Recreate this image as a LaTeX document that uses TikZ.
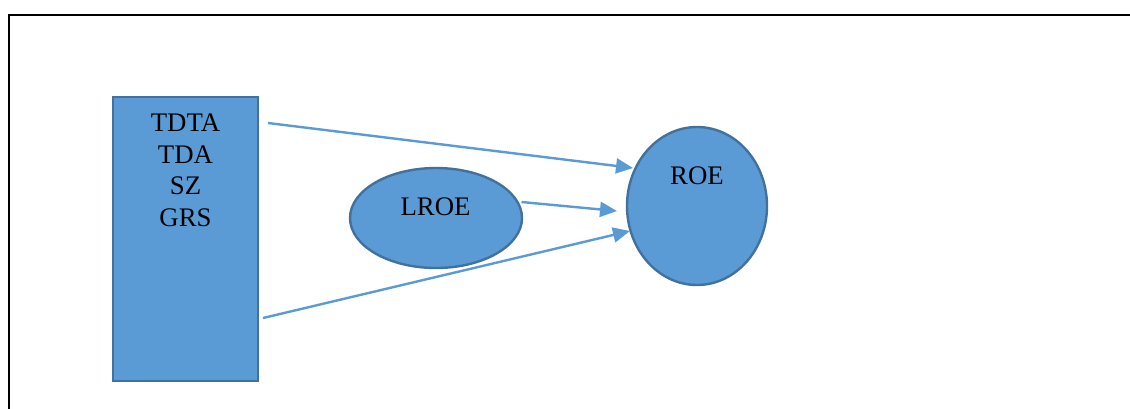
\documentclass[tikz,border=0pt]{standalone}
\usepackage{fontspec}
\setmainfont{Liberation Serif}
\usetikzlibrary{shapes.geometric,arrows.meta}
\definecolor{fillblue}{HTML}{5B9BD5}
\definecolor{edgeblue}{HTML}{41719C}
\begin{document}
\begin{tikzpicture}[x=1pt,y=-1pt,
  shapebox/.style={draw=edgeblue,fill=fillblue,line width=2.4pt,inner sep=0pt},
  lbl/.style={font=\fontsize{26.8}{31.5}\selectfont,inner sep=0pt,align=center,text=black},
  conn/.style={draw=fillblue,line width=2.4pt,-{Triangle[length=17pt,width=15pt]}}]
\useasboundingbox (0,0) rectangle (1130,408);
\clip (0,0) rectangle (1130,408);
\draw[line width=2.3pt] (9,420) -- (9,15) -- (1140,15);
% shapes
\node[shapebox,rectangle,minimum width=145pt,minimum height=284pt] (box) at (185.5,239) {};
\node[shapebox,ellipse,minimum width=172pt,minimum height=100pt] (lroe) at (436,218) {};
\node[shapebox,ellipse,minimum width=140pt,minimum height=158pt] (roe) at (697,206) {};
% labels
\node[lbl,anchor=north] (boxtext) at (185.5,114) {TDTA\\TDA\\SZ\\GRS};
\node[lbl,anchor=north] (lroetext) at (435.5,198) {LROE};
\node[lbl,anchor=north] (roetext) at (697,167) {ROE};
% connector ends
\coordinate (s1) at (268,123);
\coordinate (t1) at (633,168);
\coordinate (s2) at (521.5,202);
\coordinate (t2) at (617,211);
\coordinate (s3) at (263,318);
\coordinate (t3) at (630,231);
\draw[conn] (s1) -- (t1);
\draw[conn] (s2) -- (t2);
\draw[conn] (s3) -- (t3);
\end{tikzpicture}
\end{document}
